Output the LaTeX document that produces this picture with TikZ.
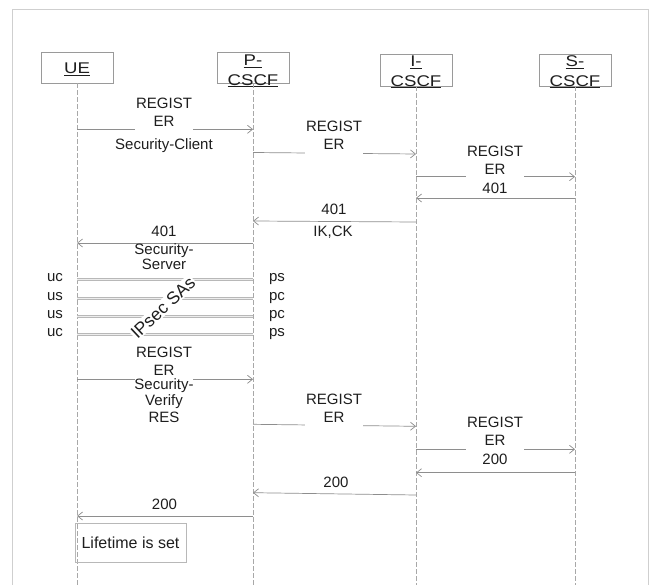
\documentclass[tikz,border=0pt]{standalone}
\usepackage{fontspec}
\setmainfont{Liberation Sans}
\usepackage{graphicx}
\usetikzlibrary{arrows.meta}
\definecolor{txt}{HTML}{1E1E1E}
\definecolor{linec}{HTML}{8E8E8E}
\definecolor{lifec}{HTML}{A8A8A8}
\definecolor{framec}{HTML}{CFCFCF}
\definecolor{boxc}{HTML}{9A9A9A}
\definecolor{sac}{HTML}{B8B8B8}
\definecolor{sain}{HTML}{EDEDED}
\newcommand{\hw}[1]{\scalebox{1.2}[1]{\underline{#1}}}
\begin{document}
\begin{tikzpicture}[x=1pt,y=-1pt,
  headbox/.style={draw=boxc, line width=0.7pt, minimum width=72pt, minimum height=31pt, inner sep=0pt},
  headtxt/.style={text=txt, align=center, inner sep=0pt, font=\fontsize{15.5}{19.5}\selectfont},
  life/.style={draw=lifec, line width=0.7pt, dash pattern=on 4.5pt off 2.5pt},
  msg/.style={draw=linec, line width=0.7pt, -{Straight Barb[length=5pt,width=8pt,line width=0.7pt]}},
  lbl/.style={text=txt, align=center, font=\fontsize{15}{18}\selectfont, inner sep=1pt},
  mask/.style={fill=white, inner xsep=1pt},
  sa/.style={draw=sac, line width=0.6pt, double=sain, double distance=1.5pt},
  ltbox/.style={draw=boxc!70, line width=0.6pt, minimum width=111pt, minimum height=39pt, inner sep=0pt, text=txt, font=\fontsize{16}{19}\selectfont}
]
\useasboundingbox (0,0) rectangle (655,585);
\fill[white] (0,0) rectangle (655,585);
% frame
\draw[framec, line width=1pt] (12,585) -- (12,10) -- (648,10) -- (648,585);

% heads
\node[headbox] (ue) at (77,67.5) {};
\node[headtxt, anchor=base] (uet) at (77,74) {\hw{UE}};
\node[headbox] (pc) at (253,67.5) {};
\node[headtxt] (pct) at (253,71) {\hw{P-}\\\hw{CSCF}};
\node[headbox, minimum height=32pt] (ic) at (416,70) {};
\node[headtxt] (ict) at (416,72) {\hw{I-}\\\hw{CSCF}};
\node[headbox, minimum height=32pt] (sc) at (575,70) {};
\node[headtxt] (sct) at (575,72) {\hw{S-}\\\hw{CSCF}};

% lifelines
\coordinate (ueE) at (77,585);
\coordinate (pcE) at (253,585);
\coordinate (icE) at (416,585);
\coordinate (scE) at (575,585);
\draw[life] (ue.south) -- (ueE);
\draw[life] (pc.south) -- (pcE);
\draw[life] (ic.south) -- (icE);
\draw[life] (sc.south) -- (scE);

% m1 REGISTER UE -> P
\coordinate (m1a) at (77,129.3); \coordinate (m1b) at (253,129.3);
\draw[msg] (m1a) -- (m1b);
\node[lbl, mask, inner ysep=4pt] (m1t) at (164,112) {REGIST\\ER};
\node[lbl, anchor=base] (m1c) at (164,149.4) {Security-Client};

% m2 REGISTER P -> I
\coordinate (m2a) at (253,152.5); \coordinate (m2b) at (416,154);
\draw[msg] (m2a) -- (m2b);
\node[lbl, mask, inner ysep=6pt] (m2t) at (334,135) {REGIST\\ER};

% m3 REGISTER I -> S
\coordinate (m3a) at (416,176.7); \coordinate (m3b) at (575,176.7);
\draw[msg] (m3a) -- (m3b);
\node[lbl, mask, inner ysep=4pt] (m3t) at (495,160) {REGIST\\ER};

% m4 401 S -> I
\coordinate (m4a) at (575,198); \coordinate (m4b) at (416,198);
\draw[msg] (m4a) -- (m4b);
\node[lbl, anchor=base] (m4t) at (495,194) {401};

% m5 401 I -> P
\coordinate (m5a) at (416,222); \coordinate (m5b) at (253,221);
\draw[msg] (m5a) -- (m5b);
\node[lbl, anchor=base] (m5t) at (334,214.4) {401};
\node[lbl, anchor=base] (m5c) at (333,236.9) {IK,CK};

% m6 401 P -> UE
\coordinate (m6a) at (253,243); \coordinate (m6b) at (77,243);
\draw[msg] (m6a) -- (m6b);
\node[lbl, anchor=base] (m6t) at (164,236.4) {401};
\node[lbl, font=\fontsize{15}{15}\selectfont] (m6c) at (164,256.5) {Security-\\Server};

% IPsec SAs
\coordinate (s1a) at (77,279.3); \coordinate (s1b) at (253,279.3);
\coordinate (s2a) at (77,298.3); \coordinate (s2b) at (253,298.3);
\coordinate (s3a) at (77,316.3); \coordinate (s3b) at (253,316.3);
\coordinate (s4a) at (77,334.3); \coordinate (s4b) at (253,334.3);
\draw[sa] (s1a) -- (s1b);
\draw[sa] (s2a) -- (s2b);
\draw[sa] (s3a) -- (s3b);
\draw[sa] (s4a) -- (s4b);
\node[lbl, anchor=base] (l1) at (55,281) {uc};
\node[lbl, anchor=base] (l2) at (55,300) {us};
\node[lbl, anchor=base] (l3) at (55,318) {us};
\node[lbl, anchor=base] (l4) at (55,336) {uc};
\node[lbl, anchor=base] (r1) at (277,281) {ps};
\node[lbl, anchor=base] (r2) at (277,300) {pc};
\node[lbl, anchor=base] (r3) at (277,318) {pc};
\node[lbl, anchor=base] (r4) at (277,336) {ps};
\node[lbl, fill=white, inner sep=1pt, rotate=43, font=\fontsize{17.5}{20}\selectfont] (ipsec) at (163,307.5) {IPsec SAs};

% m8 REGISTER UE -> P
\coordinate (m8a) at (77,379.3); \coordinate (m8b) at (253,379.3);
\draw[msg] (m8a) -- (m8b);
\node[lbl, mask, inner ysep=5pt] (m8t) at (164,361.5) {REGIST\\ER};
\node[lbl, font=\fontsize{15}{16.3}\selectfont] (m8c) at (164,400.5) {Security-\\Verify\\RES};

% m9 REGISTER P -> I
\coordinate (m9a) at (253,424.3); \coordinate (m9b) at (416,426.3);
\draw[msg] (m9a) -- (m9b);
\node[lbl, mask, inner ysep=5pt] (m9t) at (334,408) {REGIST\\ER};

% m10 REGISTER I -> S
\coordinate (m10a) at (416,449.3); \coordinate (m10b) at (575,449.3);
\draw[msg] (m10a) -- (m10b);
\node[lbl, mask, inner ysep=5pt] (m10t) at (495,431.5) {REGIST\\ER};

% m11 200 S -> I
\coordinate (m11a) at (575,472.7); \coordinate (m11b) at (416,472.7);
\draw[msg] (m11a) -- (m11b);
\node[lbl, anchor=base] (m11t) at (495,464.4) {200};

% m12 200 I -> P
\coordinate (m12a) at (416,495); \coordinate (m12b) at (253,492.7);
\draw[msg] (m12a) -- (m12b);
\node[lbl, anchor=base] (m12t) at (336,487.4) {200};

% m13 200 P -> UE
\coordinate (m13a) at (253,516); \coordinate (m13b) at (77,516);
\draw[msg] (m13a) -- (m13b);
\node[lbl, anchor=base] (m13t) at (164.5,509.4) {200};

% lifetime
\node[ltbox] (lt) at (130.5,542.5) {Lifetime is set};
\end{tikzpicture}
\end{document}
